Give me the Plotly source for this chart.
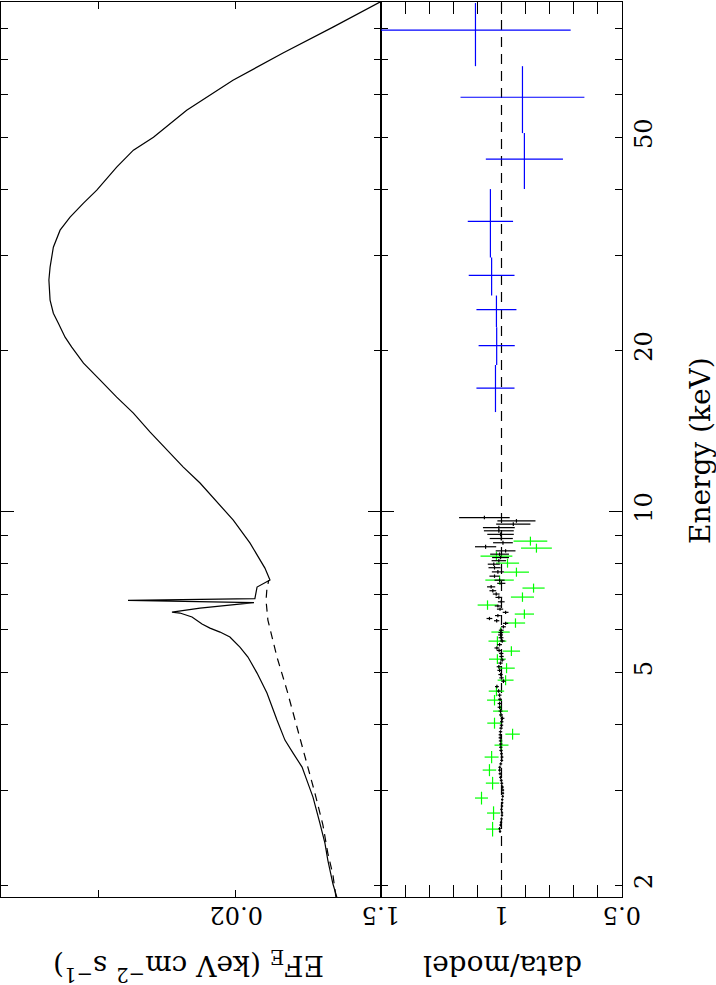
import math
import plotly.graph_objects as go

# ---------------- data ----------------
# total model (solid), E*F(E) in keV cm^-2 s^-1 vs energy in keV
model_energy = [1.899, 2.009, 2.227, 2.396, 2.611, 2.921, 3.102, 3.324, 3.530, 3.733,
                4.069, 4.571, 4.981, 5.337, 5.572, 5.817, 5.943, 6.046, 6.151, 6.231,
                6.340, 6.450, 6.478, 6.590, 6.748, 6.812, 6.865, 7.213, 7.433, 7.827,
                8.715, 9.621, 10.40, 11.29, 12.09, 13.01, 14.05, 15.25, 16.34, 17.58,
                18.91, 20.26, 21.15, 22.46, 23.45, 24.81, 27.04, 28.59, 31.15, 33.52,
                35.45, 37.66, 39.82, 43.97, 47.30, 50.02, 56.18, 63.92, 71.84, 80.32, 89.54]
model_flux = [0.01487, 0.01504, 0.01527, 0.01540, 0.01563, 0.01595, 0.01619, 0.01647, 0.01691, 0.01732,
              0.01773, 0.01826, 0.01880, 0.01931, 0.01977, 0.02036, 0.02096, 0.02159, 0.02210, 0.02236,
              0.02276, 0.02358, 0.02414, 0.02223, 0.01897, 0.02747, 0.01892, 0.01880, 0.01810, 0.01837,
              0.01919, 0.02016, 0.02117, 0.02223, 0.02335, 0.02451, 0.02574, 0.02704, 0.02840, 0.02981,
              0.03131, 0.03241, 0.03305, 0.03371, 0.03421, 0.03454, 0.03466, 0.03454, 0.03421, 0.03354,
              0.03257, 0.03131, 0.03011, 0.02840, 0.02704, 0.02549, 0.02312, 0.02018, 0.01742, 0.01504, 0.01309]

# continuum component (dashed)
cont_energy = [1.899, 2.088, 2.295, 2.589, 2.972, 3.470, 3.982, 4.630, 5.337, 6.258, 6.812, 7.182, 7.433]
cont_flux = [0.01491, 0.01504, 0.01527, 0.01549, 0.01586, 0.01633, 0.01677, 0.01722, 0.01773, 0.01821,
             0.01831, 0.01826, 0.01816]

# data/model ratios
black_energy = [2.52, 2.55, 2.59, 2.62, 2.66, 2.70, 2.73, 2.77, 2.81, 2.85, 2.89, 2.93, 2.97, 3.01,
                3.05, 3.10, 3.14, 3.18, 3.23, 3.28, 3.32, 3.37, 3.42, 3.47, 3.52,
                3.57, 3.62, 3.67, 3.72, 3.77, 3.82, 3.87, 3.93, 3.98, 4.04,
                4.10, 4.16, 4.23, 4.30, 4.37, 4.45, 4.53, 4.61, 4.70,
                4.81, 4.88, 4.95, 5.04, 5.12, 5.20, 5.27, 5.35, 5.42,
                5.49, 5.55, 5.63, 5.72, 5.80, 5.87, 5.93, 5.99, 6.08,
                6.17, 6.24, 6.30, 6.38, 6.47, 6.56, 6.65, 6.77,
                6.90, 7.00, 7.10, 7.22, 7.33, 7.43, 7.56,
                7.70, 7.84, 7.96, 8.08, 8.19, 8.31, 8.43,
                8.58, 8.73, 8.89, 9.05, 9.19, 9.32, 9.46, 9.59, 9.73]
black_ratio = [1.006, 1.008, 1.004, 1.002, 1.000, 0.998, 0.998, 1.000, 0.998, 0.997, 0.997, 0.995, 0.994, 0.994,
               0.996, 0.999, 1.001, 1.004, 1.006, 1.008, 1.007, 1.003, 0.999, 0.998, 1.000,
               1.002, 1.003, 1.003, 1.004, 1.005, 1.005, 1.004, 1.002, 1.000, 0.999,
               0.996, 1.002, 1.004, 1.008, 1.008, 1.006, 1.008, 1.012, 1.019,
               0.992, 1.000, 1.004, 1.008, 1.011, 1.004, 0.997, 1.000, 1.001,
               1.010, 1.019, 1.008, 0.997, 1.002, 1.004, 1.003, 1.001, 0.992,
               0.983, 1.020, 1.050, 1.015, 0.983, 1.006, 1.015, 1.001,
               1.011, 1.022, 1.036, 1.043, 1.001, 1.008, 1.029,
               1.015, 1.029, 1.032, 1.011, 1.004, 1.008, 0.983,
               1.066, 0.994, 1.001, 1.004, 1.011, 1.011, 0.951, 0.938, 1.071]
black_err = [0.005, 0.005, 0.005, 0.005, 0.005, 0.005, 0.005, 0.005, 0.005, 0.005, 0.005, 0.005, 0.005, 0.005,
             0.006, 0.006, 0.006, 0.006, 0.006, 0.006, 0.006, 0.006, 0.006, 0.006, 0.006,
             0.007, 0.007, 0.007, 0.007, 0.007, 0.007, 0.007, 0.007, 0.007, 0.007,
             0.008, 0.008, 0.008, 0.008, 0.008, 0.008, 0.008, 0.008, 0.008,
             0.009, 0.009, 0.009, 0.009, 0.009, 0.009, 0.009, 0.009, 0.009,
             0.010, 0.010, 0.010, 0.010, 0.010, 0.010, 0.010, 0.010, 0.010,
             0.011, 0.011, 0.012, 0.012, 0.012, 0.013, 0.013, 0.014,
             0.014, 0.014, 0.014, 0.017, 0.017, 0.021, 0.021,
             0.025, 0.025, 0.025, 0.030, 0.035, 0.039, 0.041,
             0.044, 0.041, 0.048, 0.055, 0.062, 0.066, 0.071, 0.079, 0.105]
black_half_bin = [0.017, 0.017, 0.017, 0.017, 0.017, 0.017, 0.017, 0.017, 0.017, 0.017, 0.017, 0.017, 0.017, 0.017,
                  0.022, 0.022, 0.022, 0.022, 0.022, 0.022, 0.022, 0.022, 0.022, 0.022, 0.022,
                  0.025, 0.025, 0.025, 0.025, 0.025, 0.025, 0.025, 0.025, 0.025, 0.025,
                  0.035, 0.035, 0.035, 0.035, 0.035, 0.035, 0.035, 0.035, 0.035,
                  0.038, 0.038, 0.038, 0.038, 0.038, 0.038, 0.038, 0.038, 0.038,
                  0.042, 0.042, 0.042, 0.042, 0.042, 0.042, 0.042, 0.042, 0.042,
                  0.045, 0.045, 0.045, 0.045, 0.045, 0.045, 0.045, 0.045,
                  0.055, 0.055, 0.055, 0.055, 0.055, 0.055, 0.055,
                  0.060, 0.060, 0.060, 0.060, 0.060, 0.060, 0.060,
                  0.075, 0.075, 0.075, 0.075, 0.075, 0.075, 0.075, 0.075, 0.075]

green_energy = [2.545, 2.727, 2.909, 3.102, 3.281, 3.470, 3.653, 3.830, 4.016, 4.229,
                4.434, 4.609, 4.832, 5.088, 5.289, 5.475, 5.716, 5.943, 6.179, 6.422,
                6.676, 6.909, 7.182, 7.433, 7.692, 7.996, 8.241, 8.530, 8.791]
green_ratio = [1.037, 1.033, 1.083, 1.037, 1.050, 1.041, 1.000, 0.954, 1.029, 1.004,
               1.029, 1.021, 0.983, 0.979, 1.017, 0.959, 1.017, 1.004, 0.942, 0.905,
               1.058, 0.913, 0.867, 1.008, 0.938, 0.975, 1.021, 0.855, 0.880]
green_err = [0.027, 0.027, 0.027, 0.028, 0.028, 0.029, 0.029, 0.030, 0.030, 0.031,
             0.031, 0.032, 0.033, 0.034, 0.035, 0.036, 0.037, 0.038, 0.040, 0.040,
             0.041, 0.048, 0.046, 0.059, 0.052, 0.048, 0.066, 0.064, 0.070]
green_half_bin = [0.08, 0.08, 0.08, 0.085, 0.085, 0.09, 0.09, 0.09, 0.095, 0.10,
                  0.10, 0.10, 0.105, 0.11, 0.11, 0.115, 0.12, 0.12, 0.125, 0.13,
                  0.135, 0.14, 0.14, 0.145, 0.15, 0.155, 0.16, 0.165, 0.17]

blue_energy = [16.98, 20.4, 23.8, 27.6, 34.8, 45.5, 59.4, 79.3]
blue_bin_lo = [15.32, 18.76, 22.08, 25.3, 29.8, 40.0, 50.9, 67.9]
blue_bin_hi = [18.76, 22.08, 25.3, 29.8, 40.0, 50.9, 67.9, 89.1]
blue_ratio = [1.025, 1.020, 1.021, 1.041, 1.046, 0.905, 0.913, 1.108]
blue_err = [0.079, 0.075, 0.083, 0.095, 0.094, 0.160, 0.257, 0.395]

energy_ticks = [2, 5, 10, 20, 50]
energy_minor = [3, 4, 6, 7, 8, 9, 30, 40, 60, 70, 80, 90]
flux_ticks = [0.02, 0.03]
flux_labels = ["0.02", ""]
ratio_ticks = [0.5, 1, 1.5]
ratio_labels = ["0.5", "1", "1.5"]
ratio_minor = [0.6, 0.7, 0.8, 0.9, 1.1, 1.2, 1.3, 1.4]

E_RANGE = [1.9, 89.5]
F_RANGE = [0.0399, 0.01306]
R_RANGE = [1.5, 0.5]

# ---------------- figure ----------------
FONT = "DejaVu Serif"
FS = 24
FS_TITLE = 28
W, H = 716, 985
ML, MR, MT, MB = 1, 94, 2, 88
pw = W - ML - MR
ph = H - MT - MB
split = 380 / pw

fig = go.Figure()

fig.add_trace(go.Scatter(x=model_flux, y=model_energy, mode="lines",
                         line=dict(color="black", width=1.2), xaxis="x", yaxis="y",
                         showlegend=False, hoverinfo="skip"))
fig.add_trace(go.Scatter(x=cont_flux, y=cont_energy, mode="lines",
                         line=dict(color="black", width=1.2, dash="8px,6px"), xaxis="x", yaxis="y",
                         showlegend=False, hoverinfo="skip"))

fig.add_trace(go.Scatter(x=[1, 1], y=E_RANGE, mode="lines",
                         line=dict(color="black", width=1.2, dash="10px,7px"),
                         xaxis="x2", yaxis="y2", showlegend=False, hoverinfo="skip"))


def add_ratio(energy, ratio, rerr, e_minus, e_plus, color):
    fig.add_trace(go.Scatter(
        x=ratio, y=energy, mode="markers", xaxis="x2", yaxis="y2",
        marker=dict(size=1, color=color),
        error_x=dict(type="data", array=rerr, color=color, thickness=1.2, width=0),
        error_y=dict(type="data", array=e_plus, arrayminus=e_minus, symmetric=False,
                     color=color, thickness=1.2, width=0),
        showlegend=False, hoverinfo="skip"))


add_ratio(green_energy, green_ratio, green_err, green_half_bin, green_half_bin, "#00ff00")
add_ratio(black_energy, black_ratio, black_err, black_half_bin, black_half_bin, "black")
add_ratio(blue_energy, blue_ratio, blue_err,
          [e - lo for e, lo in zip(blue_energy, blue_bin_lo)],
          [hi - e for e, hi in zip(blue_energy, blue_bin_hi)], "#0000ff")

# dummy trace so the overlay axis (long tick at 10 keV) is drawn
fig.add_trace(go.Scatter(x=[None], y=[None], xaxis="x2", yaxis="y3", showlegend=False))

tickfont = dict(family=FONT, size=FS, color="black")
common = dict(showline=True, linecolor="black", linewidth=1, mirror="allticks",
              ticks="inside", tickcolor="black", tickwidth=1, showgrid=False, zeroline=False)

elog = [math.log10(v) for v in E_RANGE]

fig.update_layout(
    width=W, height=H, margin=dict(l=ML, r=MR, t=MT, b=MB),
    paper_bgcolor="white", plot_bgcolor="white",
    xaxis=dict(domain=[0, split], type="log", range=[math.log10(v) for v in F_RANGE],
               anchor="y", tickvals=flux_ticks, ticklen=7, showticklabels=False, **common),
    xaxis2=dict(domain=[split, 1], range=R_RANGE, anchor="y2",
                tickvals=ratio_ticks, ticklen=12, showticklabels=False,
                minor=dict(tickvals=ratio_minor, ticklen=6, ticks="inside", tickcolor="black"),
                **common),
    yaxis=dict(domain=[0, 1], type="log", range=elog, anchor="x",
               tickvals=[10], ticklen=13, showticklabels=False,
               minor=dict(tickvals=[2, 5, 20, 50] + energy_minor, ticklen=7, ticks="inside",
                          tickcolor="black"),
               **common),
    yaxis2=dict(domain=[0, 1], type="log", range=elog, anchor="x2", side="right",
                tickvals=energy_ticks, ticktext=[str(v) for v in energy_ticks], ticklen=7,
                tickangle=-90, tickfont=tickfont,
                minor=dict(tickvals=energy_minor, ticklen=7, ticks="inside", tickcolor="black"),
                **common),
    yaxis3=dict(type="log", range=elog, anchor="x2", overlaying="y2", side="right",
                tickvals=[10], ticklen=13, showticklabels=False, showline=False,
                mirror="allticks", ticks="inside", tickcolor="black", tickwidth=1,
                showgrid=False, zeroline=False),
)

# upside-down tick labels (the whole XSPEC plot is rotated), placed via the axes' own scales
label_y = (H - MB - 915) / ph
for v, t in zip(flux_ticks, flux_labels):
    if t:
        fig.add_annotation(text=t, xref="x", yref="paper", x=math.log10(v), y=label_y,
                           textangle=180, showarrow=False, font=tickfont,
                           xanchor="center", yanchor="middle")
for v, t in zip(ratio_ticks, ratio_labels):
    fig.add_annotation(text=t, xref="x2", yref="paper", x=v, y=label_y,
                       textangle=180, showarrow=False, font=tickfont,
                       xanchor="center", yanchor="middle")

title_font = dict(family=FONT, size=FS_TITLE, color="black")
fig.add_annotation(text="EF<sub>E</sub> (keV cm<sup>−2</sup> s<sup>−1</sup>)",
                   xref="paper", yref="paper", x=(189 - ML) / pw, y=(H - MB - 965) / ph,
                   textangle=180, showarrow=False, font=title_font,
                   xanchor="center", yanchor="middle")
fig.add_annotation(text="data/model", xref="paper", yref="paper",
                   x=(503 - ML) / pw, y=(H - MB - 965) / ph,
                   textangle=180, showarrow=False, font=title_font,
                   xanchor="center", yanchor="middle")
fig.add_annotation(text="Energy (keV)", xref="paper", yref="paper",
                   x=(700 - ML) / pw, y=(H - MB - 450) / ph,
                   textangle=-90, showarrow=False, font=title_font,
                   xanchor="center", yanchor="middle")

fig.write_html("out.html", config={"displayModeBar": False},
               post_script="document.body.style.margin='0';")
